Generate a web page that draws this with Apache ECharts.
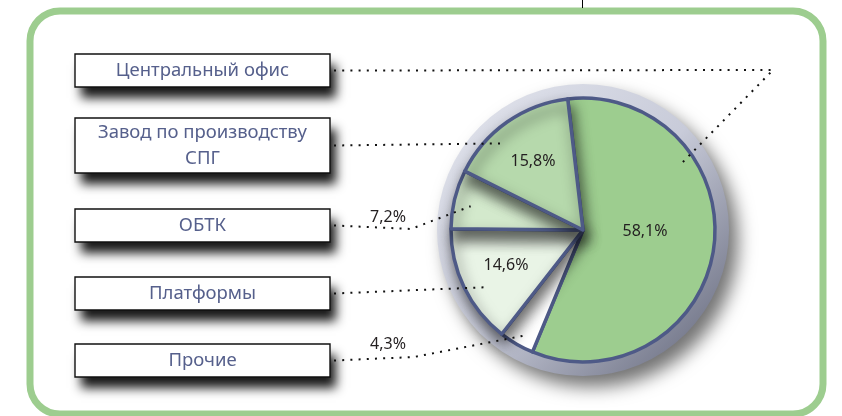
<!DOCTYPE html>
<html lang="ru">
<head>
    <meta charset="UTF-8">
    <title>Структура</title>
    <style>
        html, body {margin: 0; padding: 0; background: #fff;}
        #main {width: 842px; height: 416px;}
    </style>
    <script type="text/javascript" src="https://cdn.jsdelivr.net/npm/echarts@6/dist/echarts.min.js"></script>
</head>
<body>
    <div id="main"></div>
    <script>
        // данные
        var categories = ['Центральный офис', 'Завод по производству\nСПГ', 'ОБТК', 'Платформы', 'Прочие'];
        var values = [58.1, 15.8, 7.2, 14.6, 4.3];
        var colors = ['#9dcd8f', '#b6d9ac', '#d3e9cc', '#e9f4e6', '#ffffff'];
        // порядок отрисовки секторов по часовой стрелке
        var pieOrder = [0, 4, 3, 2, 1];
        var innerShadow = [false, true, true, true, false];

        // раскладка
        var center = [583, 230];
        var radius = 132;
        var startAngle = 247.5;           // начало "Центральный офис", против часовой
        var boxX = 75, boxW = 255;
        var boxY = [54, 118, 209, 277, 344];
        var boxH = [33, 55, 33, 33, 33];
        var bends = [[773, 70], null, [411, 229], null, [414, 357]];
        var anchorFrac = [0.70, 0.63, 0.56, 0.58, 0.60];
        var anchorR = [0.89, 0.89, 0.87, 0.87, 0.91];
        var labelPos = [[645, 231], [533, 161], [388, 217], [506, 265], [388, 344]];

        function fmt(v) { return v.toFixed(1).replace('.', ',') + '%'; }

        // углы секторов
        var total = values.reduce(function (a, b) { return a + b; }, 0);
        var angles = [];
        var a0 = startAngle;
        values.forEach(function (v) {
            var span = v / total * 360;
            angles.push([a0, a0 + span]);
            a0 += span;
        });
        function polar(deg, r) {
            var t = deg * Math.PI / 180;
            return [center[0] + r * Math.cos(t), center[1] - r * Math.sin(t)];
        }

        var graphics = [];
        // рамка
        graphics.push({
            type: 'rect', z: 0,
            shape: {x: 30, y: 11, width: 793, height: 403, r: 30},
            style: {fill: '#fff', stroke: '#9dcd8f', lineWidth: 7}
        });
        graphics.push({
            type: 'line', z: 1,
            shape: {x1: 582.5, y1: 0, x2: 582.5, y2: 8},
            style: {stroke: '#000', lineWidth: 1}
        });
        // кольцо вокруг круга
        graphics.push({
            type: 'circle', z: 1,
            shape: {cx: center[0], cy: center[1], r: 146},
            style: {
                fill: new echarts.graphic.LinearGradient(0, 0, 1, 1, [
                    {offset: 0, color: '#e4e6ee'},
                    {offset: 0.5, color: '#c8cbd9'},
                    {offset: 1, color: '#5c6074'}
                ]),
                shadowBlur: 18, shadowOffsetX: 9, shadowOffsetY: 11,
                shadowColor: 'rgba(0,0,0,0.55)'
            }
        });

        categories.forEach(function (name, i) {
            var y = boxY[i], h = boxH[i];
            // тень
            graphics.push({
                type: 'rect', z: 2,
                shape: {x: boxX, y: y, width: boxW, height: h},
                style: {
                    fill: '#fff',
                    shadowBlur: 10, shadowOffsetX: 6, shadowOffsetY: 11,
                    shadowColor: 'rgba(0,0,0,0.9)'
                }
            });
            graphics.push({
                type: 'rect', z: 3,
                shape: {x: boxX, y: y, width: boxW, height: h},
                style: {fill: '#fff', stroke: '#111', lineWidth: 1.4}
            });
            graphics.push({
                type: 'text', z: 4,
                x: boxX + boxW / 2, y: y + h / 2,
                style: {
                    text: name, align: 'center', verticalAlign: 'middle',
                    fill: '#56608c', fontSize: 18.5, lineHeight: 26,
                    fontFamily: 'Noto Sans'
                }
            });
            var ang = angles[i][0] + (angles[i][1] - angles[i][0]) * anchorFrac[i];
            var p = polar(ang, radius * anchorR[i]);
            var pts = [[boxX + boxW + 4, y + h / 2]];
            if (bends[i]) pts.push(bends[i]);
            pts.push(p);
            graphics.push({
                type: 'polyline', z: 10,
                shape: {points: pts},
                style: {stroke: '#111', lineWidth: 2, lineDash: [2, 6.2], fill: null}
            });
            graphics.push({
                type: 'text', z: 10,
                x: labelPos[i][0], y: labelPos[i][1],
                style: {
                    text: fmt(values[i]), align: 'center', verticalAlign: 'middle',
                    fill: '#231f20', fontSize: 16, fontFamily: 'Noto Sans'
                }
            });
        });

        var chart = echarts.init(document.getElementById('main'));
        chart.setOption({
            animation: false,
            graphic: graphics,
            series: [{
                type: 'pie',
                z: 5,
                center: center,
                radius: [0, radius],
                // первый сектор начинается у верхней границы и идёт по часовой
                startAngle: startAngle + values[0] / total * 360,
                clockwise: true,
                silent: true,
                label: {show: false},
                labelLine: {show: false},
                itemStyle: {borderColor: '#4e5a87', borderWidth: 3.5},
                data: pieOrder.map(function (i) {
                    var style = {color: colors[i]};
                    if (innerShadow[i]) {
                        style.shadowBlur = 14;
                        style.shadowOffsetX = 3;
                        style.shadowOffsetY = 8;
                        style.shadowColor = 'rgba(0,0,0,0.6)';
                    }
                    return {name: categories[i], value: values[i], itemStyle: style};
                })
            }]
        });
    </script>
</body>
</html>
